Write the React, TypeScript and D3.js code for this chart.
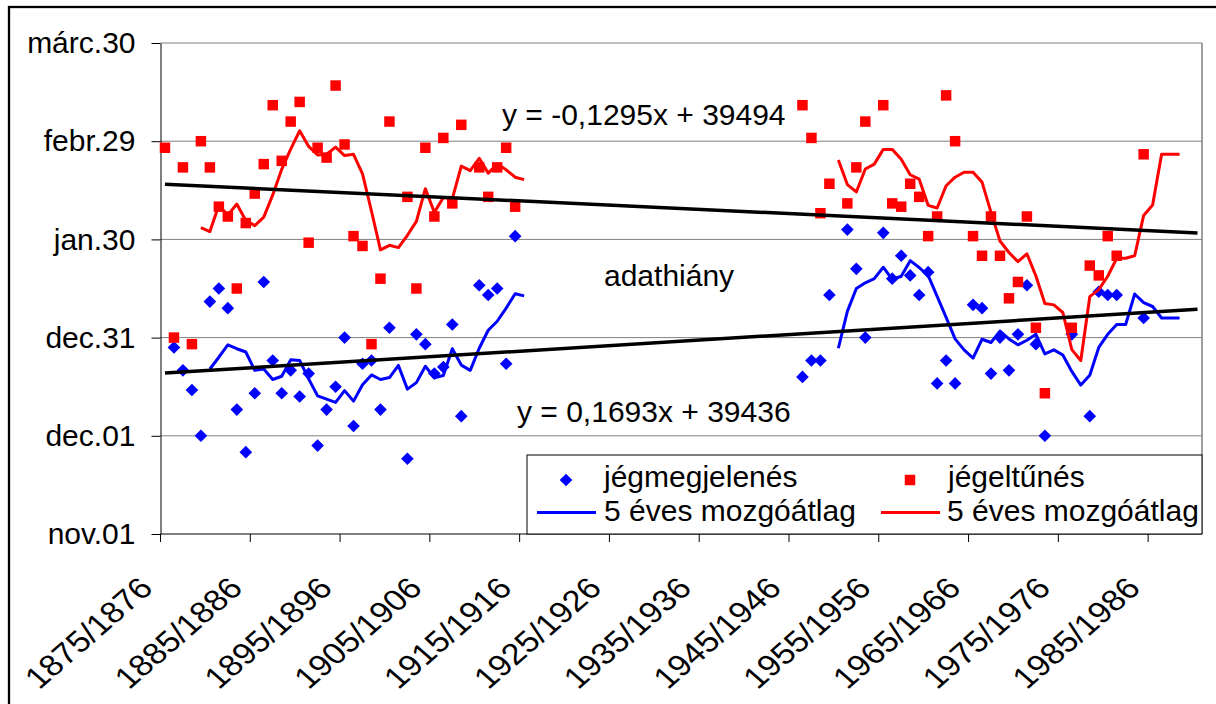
import React, { useRef, useEffect } from 'react';
import * as d3 from 'd3';

// seasons on the category axis, 1875/1876 ... 1990/1991
const seasons = d3.range(1875, 1991).map(y => `${y}/${y + 1}`);
const tickSeasons = ['1875/1876', '1885/1886', '1895/1896', '1905/1906', '1915/1916', '1925/1926',
  '1935/1936', '1945/1946', '1955/1956', '1965/1966', '1975/1976', '1985/1986'];

// y axis: Excel date serials (2007/2008 season)
const yTickValues = [39387, 39417, 39447, 39477, 39507, 39537];
const yTickLabels = ['nov.01', 'dec.01', 'dec.31', 'jan.30', 'febr.29', 'márc.30'];

// first block of observations: 1875/1876 - 1914/1915
const earlyFirst = '1875/1876';
const earlyFreeze = [null, 39444, 39437, 39431, 39417, 39458, 39462, 39456, 39425, 39412,
  39430, 39464, 39440, 39430, 39437, 39429, 39436, 39414, 39425, 39432,
  39447, 39420, 39439, 39440, 39425, 39450, null, 39410, 39448, 39445,
  39436, 39438, 39451, 39423, null, 39463, 39460, 39462, 39439, 39478];
const earlyThaw = [39505, 39447, 39499, 39445, 39507, 39499, 39487, 39484, 39462, 39482,
  39491, 39500, 39518, 39501, 39513, 39519, 39476, 39505, 39502, 39524,
  39506, 39478, 39475, 39445, 39465, 39513, null, 39490, 39462, 39505,
  39484, 39508, 39488, 39512, null, 39499, 39490, 39499, 39505, 39487];

// second block: 1946/1947 - 1984/1985
const lateFirst = '1946/1947';
const lateFreeze = [39435, 39440, 39440, 39460, null, 39480, 39468, 39447, null, 39479,
  39465, 39472, 39466, 39460, 39467, 39433, 39440, 39433, null, 39457,
  39456, 39436, 39447, 39437, 39448, 39463, 39445, 39417, null, null,
  39448, null, 39423, 39461, 39460, 39460, null, null, 39453];
const lateThaw = [39518, 39508, 39485, 39494, null, 39488, 39499, 39513, null, 39518,
  39488, 39487, 39494, 39490, 39478, 39484, 39521, 39507, null, 39478,
  39472, 39484, 39472, 39459, 39464, 39484, 39450, 39430, null, null,
  39450, null, 39469, 39466, 39478, 39472, null, null, 39503];

// 5 year moving average ranges (season from, season to)
const maRanges = [['1875/1876', '1915/1916'], ['1946/1947', '1988/1989']];

// linear trends as printed on the chart (x = 1, 2, ...)
const freezeTrend = { slope: 0.1693, intercept: 39436, label: 'y = 0,1693x + 39436' };
const thawTrend = { slope: -0.1295, intercept: 39494, label: 'y = -0,1295x + 39494' };

const FONT = '"Liberation Sans", Arial, Helvetica, sans-serif';
const BLUE = '#0000FF';
const RED = '#FF0000';

type Pt = [number, number];

const fullSeries = (early: (number | null)[], late: (number | null)[]) => {
  const e0 = seasons.indexOf(earlyFirst);
  const l0 = seasons.indexOf(lateFirst);
  return seasons.map((s, i) => {
    if (i >= e0 && i - e0 < early.length) return early[i - e0];
    if (i >= l0 && i - l0 < late.length) return late[i - l0];
    return null;
  });
};

// average of the available values among the last 5 seasons
const movingAverage = (vals: (number | null)[], from: number, to: number): Pt[] => {
  let first = from;
  while (first <= to && vals[first] == null) first++;
  const out: Pt[] = [];
  for (let i = first + 4; i <= to; i++) {
    const win = vals.slice(Math.max(from, i - 4), i + 1).filter(v => v != null) as number[];
    if (win.length) out.push([i, d3.mean(win) as number]);
  }
  return out;
};

const App = () => {
  const svgRef = useRef<SVGSVGElement>(null);

  useEffect(() => {
    const svg = d3.select(svgRef.current);
    svg.selectAll('*').remove();

    const left = 160.5, right = 1202, top = 43, bottom = 534;

    const x = d3.scaleBand().domain(seasons).range([left, right]);
    const cx = (i: number) => (x(seasons[i]) as number) + x.bandwidth() / 2;
    const y = d3.scaleLinear().domain([39387, 39537]).range([bottom, top]);

    const freeze = fullSeries(earlyFreeze, lateFreeze);
    const thaw = fullSeries(earlyThaw, lateThaw);

    // outer chart frame
    svg.append('rect')
      .attr('x', 9).attr('y', 7).attr('width', 1230).attr('height', 720)
      .attr('fill', 'none').attr('stroke', '#000').attr('stroke-width', 2.3);

    // gridlines
    svg.append('g').selectAll('line')
      .data(yTickValues.slice(1))
      .join('line')
      .attr('x1', left).attr('x2', right)
      .attr('y1', d => y(d)).attr('y2', d => y(d))
      .attr('stroke', '#808080').attr('stroke-width', 1);

    svg.append('line')
      .attr('x1', right).attr('x2', right).attr('y1', top).attr('y2', bottom)
      .attr('stroke', '#808080').attr('stroke-width', 1.5);

    // y axis
    const yAxis = d3.axisLeft(y)
      .tickValues(yTickValues)
      .tickFormat((d, i) => yTickLabels[i])
      .tickSizeInner(9).tickSizeOuter(0).tickPadding(16);
    const gy = svg.append('g').attr('transform', `translate(${left},0)`).call(yAxis);
    gy.selectAll('text').attr('font-family', FONT).attr('font-size', 30).attr('fill', '#000');
    gy.selectAll('line, path').attr('stroke', '#000');

    // x axis
    svg.append('line')
      .attr('x1', left).attr('x2', right).attr('y1', bottom).attr('y2', bottom)
      .attr('stroke', '#000');
    const gx = svg.append('g');
    gx.selectAll('line')
      .data(tickSeasons)
      .join('line')
      .attr('x1', d => x(d) as number).attr('x2', d => x(d) as number)
      .attr('y1', bottom).attr('y2', bottom + 8)
      .attr('stroke', '#000');
    gx.selectAll('text')
      .data(tickSeasons)
      .join('text')
      .attr('transform', d => `translate(${(x(d) as number) - 6},590) scale(1.15,1) rotate(-45)`)
      .attr('text-anchor', 'end')
      .attr('font-family', FONT).attr('font-size', 30)
      .text(d => d);

    // observations
    const diamond = d3.symbol(d3.symbolSquare, 80)();
    const square = d3.symbol(d3.symbolSquare, 110)();
    const idx = d3.range(seasons.length);

    svg.append('g').selectAll('path')
      .data(idx.filter(i => freeze[i] != null))
      .join('path')
      .attr('d', diamond)
      .attr('transform', i => `translate(${cx(i)},${y(freeze[i] as number)}) rotate(45)`)
      .attr('fill', BLUE);

    svg.append('g').selectAll('path')
      .data(idx.filter(i => thaw[i] != null))
      .join('path')
      .attr('d', square)
      .attr('transform', i => `translate(${cx(i)},${y(thaw[i] as number)})`)
      .attr('fill', RED);

    // moving averages
    const line = d3.line<Pt>().x(d => cx(d[0])).y(d => y(d[1]));
    [[freeze, BLUE], [thaw, RED]].forEach(([vals, color]) => {
      maRanges.forEach(([a, b]) => {
        const pts = movingAverage(vals as (number | null)[], seasons.indexOf(a), seasons.indexOf(b));
        svg.append('path')
          .attr('d', line(pts))
          .attr('fill', 'none')
          .attr('stroke', color as string)
          .attr('stroke-width', 3)
          .attr('stroke-linejoin', 'round');
      });
    });

    // linear trendlines
    [freezeTrend, thawTrend].forEach(t => {
      const ends: Pt[] = [0, seasons.length - 1].map(i => [i, t.slope * (i + 1) + t.intercept]);
      svg.append('path')
        .attr('d', line(ends))
        .attr('stroke', '#000').attr('stroke-width', 3.5);
    });

    // annotations
    const note = (tx: number, ty: number, s: string) =>
      svg.append('text').attr('x', tx).attr('y', ty)
        .attr('font-family', FONT).attr('font-size', 30).attr('fill', '#000').text(s);
    note(502, 125, thawTrend.label);
    note(517, 422, freezeTrend.label);
    note(604, 286, 'adathiány');

    // legend
    const lg = svg.append('g');
    lg.append('rect')
      .attr('x', 527).attr('y', 455).attr('width', right - 527).attr('height', bottom - 455)
      .attr('fill', '#fff').attr('stroke', '#000').attr('stroke-width', 1);
    lg.append('path').attr('d', diamond).attr('transform', 'translate(566,480) rotate(45)').attr('fill', BLUE);
    lg.append('path').attr('d', square).attr('transform', 'translate(910,480)').attr('fill', RED);
    lg.append('line').attr('x1', 537).attr('x2', 596).attr('y1', 512.5).attr('y2', 512.5)
      .attr('stroke', BLUE).attr('stroke-width', 3);
    lg.append('line').attr('x1', 881).attr('x2', 940).attr('y1', 512.5).attr('y2', 512.5)
      .attr('stroke', RED).attr('stroke-width', 3);
    const legendText = [
      [604, 487, 'jégmegjelenés'], [948, 487, 'jégeltűnés'],
      [604, 521, '5 éves mozgóátlag'], [947, 521, '5 éves mozgóátlag'],
    ];
    lg.selectAll('text')
      .data(legendText)
      .join('text')
      .attr('x', d => d[0] as number).attr('y', d => d[1] as number)
      .attr('font-family', FONT).attr('font-size', 30).attr('fill', '#000')
      .text(d => d[2] as string);
  }, []);

  return (
    <svg ref={svgRef} width={1216} height={704}
      style={{ position: 'absolute', left: 0, top: 0, background: '#fff' }} />
  );
};

export default App;
